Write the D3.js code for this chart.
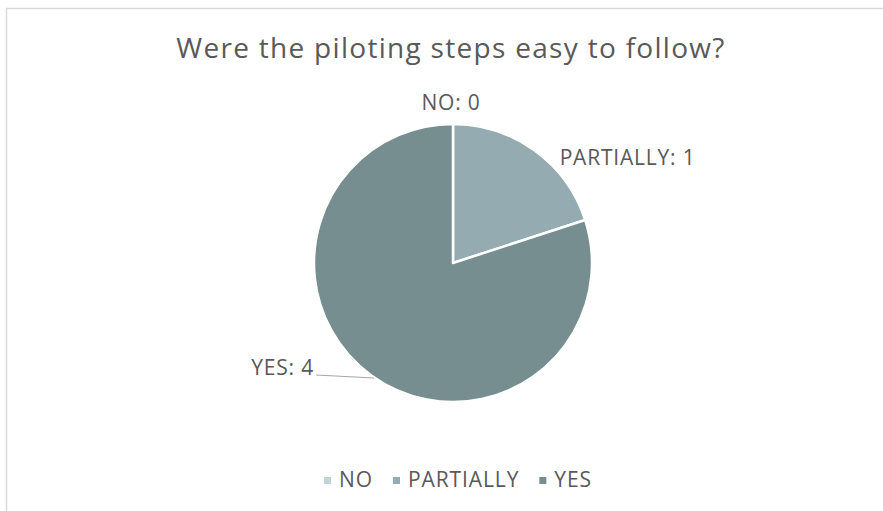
<!DOCTYPE html>
<html>
<head>
<meta charset="utf-8">
<script src="https://cdn.jsdelivr.net/npm/d3@7"></script>
<style>
  html, body { margin: 0; padding: 0; background: #fff; }
  svg { display: block; }
  text { font-family: "Open Sans", "DejaVu Sans", sans-serif; fill: #595959; }
</style>
</head>
<body>
<svg id="chart" width="883" height="511"></svg>
<script>
// Survey answers
const categories = ["NO", "PARTIALLY", "YES"];
const counts = [0, 1, 4];
const colors = ["#c3d3d6", "#93abb1", "#768e90"];
const title = "Were the piloting steps easy to follow?";

const svg = d3.select("#chart");
const W = 883, H = 511;

// chart frame
svg.append("rect")
  .attr("x", 6.5).attr("y", 8.5)
  .attr("width", W + 20).attr("height", H + 20)
  .attr("fill", "#fff").attr("stroke", "#d9d9d9").attr("stroke-width", 1.5);

svg.append("text")
  .attr("x", 451).attr("y", 58)
  .attr("text-anchor", "middle")
  .style("font-size", "28px")
  .style("letter-spacing", "1.3px")
  .text(title);

const cx = 453, cy = 263, r = 139;
const data = categories.map((c, i) => ({ cat: c, value: counts[i], color: colors[i] }));

const pie = d3.pie().sort(null).value(d => d.value);
const arcs = pie(data);
const arc = d3.arc().innerRadius(0).outerRadius(r);

const g = svg.append("g").attr("transform", `translate(${cx},${cy})`);
g.selectAll("path.slice")
  .data(arcs)
  .join("path")
  .attr("class", "slice")
  .attr("d", arc)
  .attr("fill", d => d.data.color)
  .attr("stroke", "#fff")
  .attr("stroke-width", 2.5)
  .attr("stroke-linejoin", "round");

// data labels, positioned off the slice mid-angles
const labelArc = d3.arc().innerRadius(r + 22).outerRadius(r + 22);
const labelFont = "21px";
const labelSpacing = "0.8px";
arcs.forEach(a => {
  const mid = (a.startAngle + a.endAngle) / 2;
  const txt = `${a.data.cat}: ${a.data.value}`;
  if (a.data.cat === "NO") {
    g.append("text")
      .attr("x", Math.sin(mid) * (r + 14) - 2)
      .attr("y", -Math.cos(mid) * (r + 14))
      .attr("text-anchor", "middle")
      .style("font-size", labelFont)
      .style("letter-spacing", labelSpacing)
      .text(txt);
  } else if (a.data.cat === "PARTIALLY") {
    const p = labelArc.centroid(a);
    g.append("text")
      .attr("x", p[0] + 12)
      .attr("y", p[1] + 32)
      .attr("text-anchor", "start")
      .style("font-size", labelFont)
      .style("letter-spacing", labelSpacing)
      .text(txt);
  } else {
    // label pulled out to the left with a leader line
    const edge = [Math.sin(mid) * r, -Math.cos(mid) * r];
    const lx = -137, ly = 112;
    g.append("path")
      .attr("d", d3.line()([[lx, ly], [edge[0] * 0.98 + 1, 115]]))
      .attr("stroke", "#a6a6a6").attr("stroke-width", 1.2).attr("fill", "none");
    g.append("text")
      .attr("x", lx - 2)
      .attr("y", ly)
      .attr("text-anchor", "end")
      .style("font-size", labelFont)
      .style("letter-spacing", labelSpacing)
      .text(txt);
  }
});

// legend, laid out from measured text widths and centred
const lg = svg.append("g");
const items = categories.map((c, i) => {
  const it = lg.append("g");
  it.append("rect")
    .attr("x", 0).attr("y", -10)
    .attr("width", 7).attr("height", 7)
    .attr("fill", colors[i]);
  const t = it.append("text")
    .attr("x", 15).attr("y", 0)
    .style("font-size", "21px")
    .style("letter-spacing", "0.9px")
    .text(c);
  return { it, w: 15 + t.node().getComputedTextLength() };
});
const gap = 20;
const total = d3.sum(items, d => d.w) + gap * (items.length - 1);
let x0 = 458 - total / 2;
items.forEach(d => {
  d.it.attr("transform", `translate(${x0},487)`);
  x0 += d.w + gap;
});
</script>
</body>
</html>
